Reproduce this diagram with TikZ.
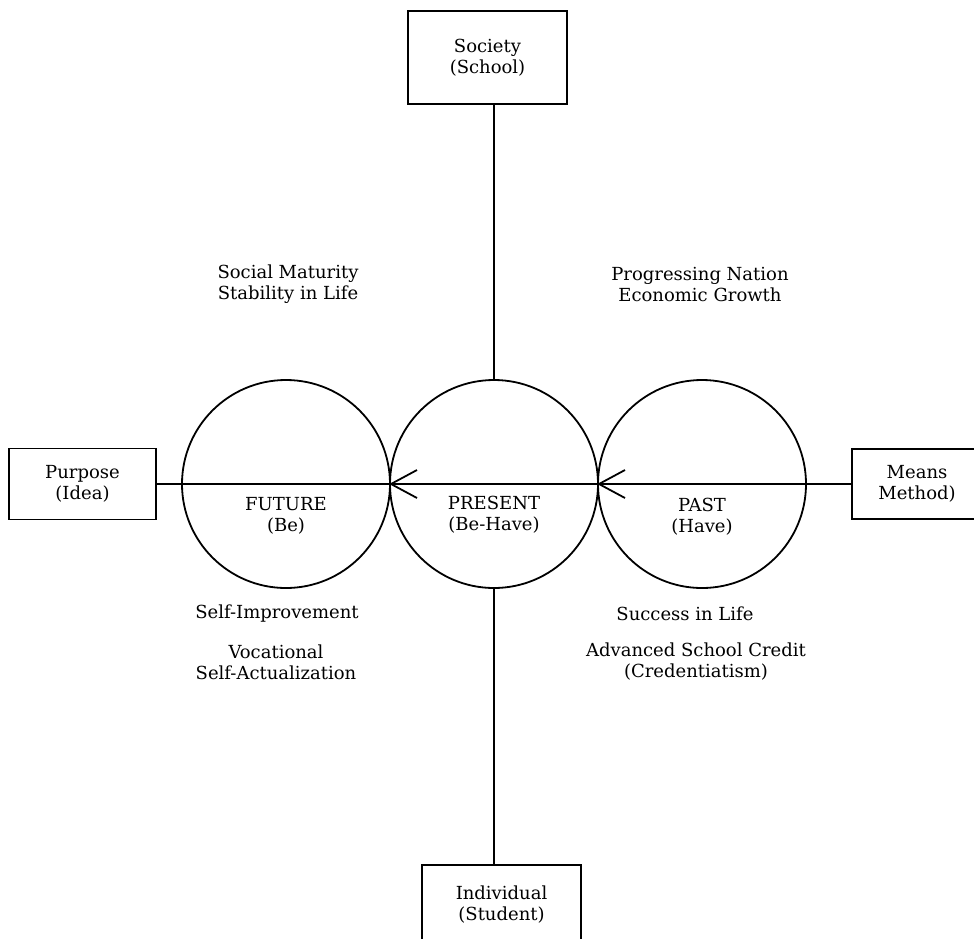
\documentclass[tikz,border=0pt]{standalone}
\usepackage{fontspec}
\setmainfont{DejaVu Serif}
\usetikzlibrary{arrows.meta}

\tikzset{
  txt/.style={align=center, font=\fontsize{18}{21}\selectfont, inner sep=0pt},
  box/.style={draw, rectangle, line width=1.8pt, txt},
  ring/.style={draw, circle, line width=1.8pt, minimum size=208pt, inner sep=0pt},
  link/.style={line width=1.8pt},
  flow/.style={line width=1.8pt, -{Straight Barb[length=26pt,width=28pt]}}
}

\begin{document}
\begin{tikzpicture}[x=1pt,y=-1pt]
  %%%%% START %%%%%
  \useasboundingbox (0,0) rectangle (974,938);
  \clip (0,0) rectangle (974,938);

  % outer boxes
  \node[box, minimum width=159pt, minimum height=93pt] (society) at (487.5,57.5) {Society\\(School)};
  \node[box, minimum width=147pt, minimum height=71pt] (purpose) at (82.5,484) {Purpose\\(Idea)};
  \node[box, minimum width=130pt, minimum height=70pt] (means) at (917,484) {Means\\Method)};
  \node[box, minimum width=159pt, minimum height=80pt] (individual) at (501.5,905) {Individual\\(Student)};

  % the three times
  \node[ring] (future) at (286,484) {};
  \node[ring] (present) at (494,484) {};
  \node[ring] (past) at (702,484) {};
  \node[txt] (futurelbl) at (286,516) {FUTURE\\(Be)};
  \node[txt] (presentlbl) at (494,515) {PRESENT\\(Be-Have)};
  \node[txt] (pastlbl) at (702,517) {PAST\\(Have)};

  % axes
  \draw[link] (present.north) -- (present.north |- society.south);
  \draw[link] (present.south) -- (present.south |- individual.north);
  \draw[flow] (means.west) -- (past.west);
  \draw[flow] (past.west) -- (present.west);
  \draw[link] (present.west) -- (purpose.east);

  % side texts
  \node[txt] (social) at (288,284) {Social Maturity\\Stability in Life};
  \node[txt] (nation) at (700,284) {Progressing Nation\\Economic Growth};
  \node[txt] (selfimp) at (277,614) {Self-Improvement};
  \node[txt] (vocational) at (276,662) {Vocational\\Self-Actualization};
  \node[txt] (success) at (685,614) {Success in Life};
  \node[txt] (credit) at (696,662) {Advanced School Credit\\(Credentiatism)};
  %%%%% END %%%%%
\end{tikzpicture}
\end{document}
